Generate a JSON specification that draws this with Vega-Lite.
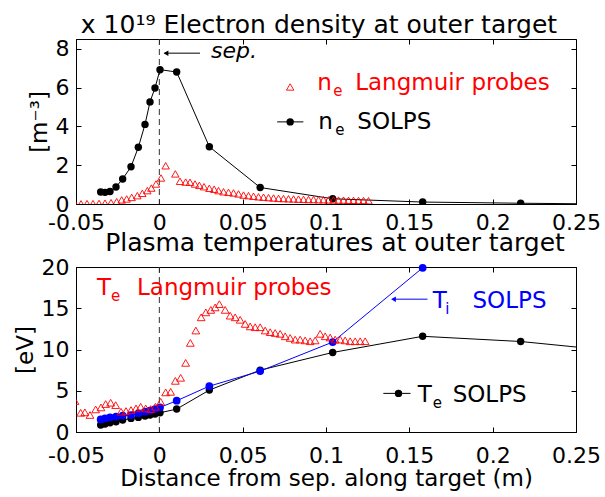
{
  "$schema": "https://vega.github.io/schema/vega-lite/v6.json",
  "padding": {"left": 13, "top": 12, "right": 5, "bottom": 5},
  "bounds": "flush",
  "spacing": 63,
  "config": {
    "font": "DejaVu Sans",
    "view": {"stroke": "#000000", "strokeWidth": 1},
    "axis": {
      "grid": false,
      "labelFont": "DejaVu Sans",
      "titleFont": "DejaVu Sans",
      "labelFontSize": 22,
      "titleFontSize": 23,
      "titleFontWeight": "normal",
      "labelColor": "#000000",
      "titleColor": "#000000",
      "domainColor": "#000000",
      "tickColor": "#000000",
      "tickSize": -5,
      "labelPadding": 12,
      "labelFlush": false
    },
    "axisX": {"labelPadding": 16},
    "title": {"font": "DejaVu Sans", "fontSize": 25, "fontWeight": "normal", "color": "#000000"}
  },
  "datasets": {
    "sep": [{"x": 0}],
    "ne_solps": [
      {"x": -0.0352, "v": 0.62}, {"x": -0.0326, "v": 0.60}, {"x": -0.0296, "v": 0.64}, {"x": -0.026, "v": 0.88},
      {"x": -0.022, "v": 1.29}, {"x": -0.017, "v": 1.92}, {"x": -0.0126, "v": 2.92}, {"x": -0.0086, "v": 4.10},
      {"x": -0.0056, "v": 5.26}, {"x": -0.0026, "v": 5.98}, {"x": 0.0004, "v": 6.92}, {"x": 0.0104, "v": 6.80},
      {"x": 0.030, "v": 2.95}, {"x": 0.0605, "v": 0.85}, {"x": 0.104, "v": 0.27}, {"x": 0.158, "v": 0.10},
      {"x": 0.2168, "v": 0.04}, {"x": 0.28, "v": -0.01}
    ],
    "ne_lp": [
      {"x": -0.0506, "v": 0.01}, {"x": -0.047, "v": 0.01}, {"x": -0.0434, "v": 0.02}, {"x": -0.0398, "v": 0.02},
      {"x": -0.0362, "v": 0.03}, {"x": -0.0326, "v": 0.04}, {"x": -0.029, "v": 0.07}, {"x": -0.0256, "v": 0.12},
      {"x": -0.0226, "v": 0.21}, {"x": -0.0196, "v": 0.26}, {"x": -0.0166, "v": 0.34}, {"x": -0.0132, "v": 0.43},
      {"x": -0.0102, "v": 0.55}, {"x": -0.0072, "v": 0.69}, {"x": -0.0048, "v": 0.82}, {"x": -0.002, "v": 1.03},
      {"x": 0.001, "v": 1.34}, {"x": 0.0038, "v": 1.97}, {"x": 0.0096, "v": 1.55}, {"x": 0.0124, "v": 1.17},
      {"x": 0.0158, "v": 1.13}, {"x": 0.0184, "v": 1.12}, {"x": 0.0214, "v": 1.03}, {"x": 0.024, "v": 0.96},
      {"x": 0.0268, "v": 0.89}, {"x": 0.030, "v": 0.81}, {"x": 0.0329, "v": 0.76}, {"x": 0.0355, "v": 0.69},
      {"x": 0.0385, "v": 0.63}, {"x": 0.0415, "v": 0.60}, {"x": 0.0445, "v": 0.57}, {"x": 0.0475, "v": 0.52},
      {"x": 0.0505, "v": 0.46}, {"x": 0.0535, "v": 0.43}, {"x": 0.0565, "v": 0.40}, {"x": 0.0595, "v": 0.37},
      {"x": 0.0625, "v": 0.35}, {"x": 0.0655, "v": 0.33}, {"x": 0.0685, "v": 0.31}, {"x": 0.0715, "v": 0.29},
      {"x": 0.0745, "v": 0.28}, {"x": 0.0775, "v": 0.27}, {"x": 0.0805, "v": 0.26}, {"x": 0.0835, "v": 0.25},
      {"x": 0.0865, "v": 0.24}, {"x": 0.0895, "v": 0.23}, {"x": 0.0925, "v": 0.23}, {"x": 0.0955, "v": 0.22},
      {"x": 0.0985, "v": 0.22}, {"x": 0.1015, "v": 0.21}, {"x": 0.1045, "v": 0.21}, {"x": 0.1075, "v": 0.20},
      {"x": 0.1105, "v": 0.20}, {"x": 0.1135, "v": 0.19}, {"x": 0.1165, "v": 0.19}, {"x": 0.1195, "v": 0.18},
      {"x": 0.1225, "v": 0.18}, {"x": 0.1255, "v": 0.17}
    ],
    "te_solps": [
      {"x": -0.0352, "v": 0.85}, {"x": -0.0326, "v": 0.97}, {"x": -0.0296, "v": 1.13}, {"x": -0.026, "v": 1.25},
      {"x": -0.022, "v": 1.45}, {"x": -0.017, "v": 1.65}, {"x": -0.0126, "v": 1.77}, {"x": -0.0086, "v": 1.93},
      {"x": -0.0056, "v": 2.06}, {"x": -0.0026, "v": 2.18}, {"x": 0.0004, "v": 2.33}, {"x": 0.0104, "v": 2.78},
      {"x": 0.030, "v": 5.08}, {"x": 0.0605, "v": 7.50}, {"x": 0.104, "v": 9.64}, {"x": 0.158, "v": 11.6},
      {"x": 0.2168, "v": 10.97}, {"x": 0.28, "v": 9.7}
    ],
    "ti_solps": [
      {"x": -0.0352, "v": 1.53}, {"x": -0.0326, "v": 1.65}, {"x": -0.0296, "v": 1.77}, {"x": -0.026, "v": 1.85},
      {"x": -0.022, "v": 1.97}, {"x": -0.017, "v": 2.06}, {"x": -0.0126, "v": 2.26}, {"x": -0.0086, "v": 2.46},
      {"x": -0.0056, "v": 2.58}, {"x": -0.0026, "v": 2.78}, {"x": 0.0004, "v": 2.98}, {"x": 0.0104, "v": 3.79},
      {"x": 0.030, "v": 5.56}, {"x": 0.0605, "v": 7.38}, {"x": 0.104, "v": 10.9}, {"x": 0.158, "v": 19.9}
    ],
    "te_lp": [
      {"x": -0.0506, "v": 3.75}, {"x": -0.0472, "v": 2.33}, {"x": -0.0447, "v": 2.38}, {"x": -0.0416, "v": 2.06},
      {"x": -0.0382, "v": 2.74}, {"x": -0.035, "v": 2.98}, {"x": -0.0322, "v": 3.39}, {"x": -0.0292, "v": 3.55},
      {"x": -0.0262, "v": 3.26}, {"x": -0.023, "v": 2.46}, {"x": -0.020, "v": 2.54}, {"x": -0.017, "v": 2.66},
      {"x": -0.014, "v": 2.86}, {"x": -0.0112, "v": 3.06}, {"x": -0.0082, "v": 2.86}, {"x": -0.0052, "v": 2.78},
      {"x": -0.0024, "v": 3.06}, {"x": 0.0008, "v": 3.66}, {"x": 0.0038, "v": 4.80}, {"x": 0.0068, "v": 4.87},
      {"x": 0.0096, "v": 6.20}, {"x": 0.0128, "v": 6.57}, {"x": 0.0158, "v": 8.38}, {"x": 0.0186, "v": 10.8},
      {"x": 0.0219, "v": 12.3}, {"x": 0.0251, "v": 13.9}, {"x": 0.0279, "v": 14.5}, {"x": 0.0309, "v": 14.8},
      {"x": 0.0335, "v": 15.1}, {"x": 0.0360, "v": 15.5}, {"x": 0.0395, "v": 14.8}, {"x": 0.0425, "v": 14.1},
      {"x": 0.0455, "v": 13.9}, {"x": 0.0485, "v": 13.6}, {"x": 0.0515, "v": 13.1}, {"x": 0.0545, "v": 12.8},
      {"x": 0.0575, "v": 12.7}, {"x": 0.0605, "v": 12.7}, {"x": 0.0635, "v": 12.3}, {"x": 0.0665, "v": 12.1},
      {"x": 0.0695, "v": 12.0}, {"x": 0.0725, "v": 11.9}, {"x": 0.0755, "v": 11.6}, {"x": 0.0785, "v": 11.4},
      {"x": 0.0815, "v": 11.2}, {"x": 0.0845, "v": 11.2}, {"x": 0.0875, "v": 11.1}, {"x": 0.0905, "v": 11.0},
      {"x": 0.0935, "v": 11.1}, {"x": 0.0965, "v": 11.9}, {"x": 0.0995, "v": 11.6}, {"x": 0.1025, "v": 11.45},
      {"x": 0.1055, "v": 11.2}, {"x": 0.1085, "v": 11.2}, {"x": 0.1115, "v": 11.1}, {"x": 0.1145, "v": 11.0},
      {"x": 0.1175, "v": 11.0}, {"x": 0.1205, "v": 11.0}, {"x": 0.1235, "v": 11.0}
    ],
    "top_rules": [
      {"x": 0.0030, "x2": 0.0244, "v": 7.77, "c": "SOLPS"},
      {"x": 0.0707, "x2": 0.0864, "v": 4.23, "c": "SOLPS"}
    ],
    "top_heads": [{"x": 0.0040, "v": 7.77, "c": "SOLPS"}],
    "top_leg_tri": [{"x": 0.0785, "v": 6.03}],
    "top_leg_dot": [{"x": 0.0785, "v": 4.23}],
    "top_italic": [{"t": "sep.", "x": 0.031, "v": 7.53}],
    "top_main": [
      {"t": "n", "x": 0.0948, "v": 5.88, "c": "LP"},
      {"t": "Langmuir probes", "x": 0.1175, "v": 5.88, "c": "LP"},
      {"t": "n", "x": 0.0954, "v": 3.87, "c": "SOLPS"},
      {"t": "SOLPS", "x": 0.1188, "v": 3.87, "c": "SOLPS"}
    ],
    "top_sub": [
      {"t": "e", "x": 0.1043, "v": 5.88, "c": "LP"},
      {"t": "e", "x": 0.1055, "v": 3.87, "c": "SOLPS"}
    ],
    "bot_rules": [
      {"x": 0.1400, "x2": 0.1609, "v": 16.1, "c": "Ti"},
      {"x": 0.1344, "x2": 0.1507, "v": 4.68, "c": "SOLPS"}
    ],
    "bot_heads": [{"x": 0.1405, "v": 16.1, "c": "Ti"}],
    "bot_leg_dot": [{"x": 0.1435, "v": 4.68}],
    "bot_main": [
      {"t": "T", "x": -0.0374, "v": 16.57, "c": "LP"},
      {"t": "Langmuir probes", "x": -0.0134, "v": 16.57, "c": "LP"},
      {"t": "T", "x": 0.164, "v": 15.0, "c": "Ti"},
      {"t": "SOLPS", "x": 0.1879, "v": 15.0, "c": "Ti"},
      {"t": "T", "x": 0.155, "v": 3.66, "c": "SOLPS"},
      {"t": "SOLPS", "x": 0.176, "v": 3.66, "c": "SOLPS"}
    ],
    "bot_sub": [
      {"t": "e", "x": -0.0290, "v": 16.57, "c": "LP"},
      {"t": "i", "x": 0.1715, "v": 15.0, "c": "Ti"},
      {"t": "e", "x": 0.1640, "v": 3.66, "c": "SOLPS"}
    ]
  },
  "vconcat": [
    {
      "width": 500,
      "height": 165,
      "title": {"text": "x 10¹⁹ Electron density at outer target", "anchor": "middle", "dx": -7, "offset": 0},
      "resolve": {"axis": {"x": "independent", "y": "independent"}},
      "layer": [
        {
          "data": {"name": "sep"},
          "mark": {"type": "rule", "color": "#333333", "strokeDash": [6, 4], "strokeWidth": 1},
          "encoding": {
            "x": {"field": "x", "type": "quantitative",
                  "scale": {"domain": [-0.05, 0.25], "nice": false, "zero": false},
                  "axis": {"values": [-0.05, 0, 0.05, 0.1, 0.15, 0.2, 0.25], "labelExpr": "'' + datum.value", "title": null, "labelPadding": 13}}
          }
        },
        {
          "data": {"name": "ne_solps"},
          "mark": {"type": "line", "color": "#000000", "strokeWidth": 1, "clip": true},
          "encoding": {
            "x": {"field": "x", "type": "quantitative", "scale": {"domain": [-0.05, 0.25], "nice": false, "zero": false}, "axis": null},
            "y": {"field": "v", "type": "quantitative", "scale": {"domain": [0, 8.5], "nice": false},
                  "axis": {"values": [0, 2, 4, 6, 8], "title": "[m⁻³]"}}
          }
        },
        {
          "data": {"name": "ne_solps"},
          "mark": {"type": "point", "shape": "circle", "filled": true, "color": "#000000", "size": 55, "opacity": 1, "clip": true},
          "encoding": {
            "x": {"field": "x", "type": "quantitative", "scale": {"domain": [-0.05, 0.25], "nice": false, "zero": false}, "axis": null},
            "y": {"field": "v", "type": "quantitative", "scale": {"domain": [0, 8.5], "nice": false}, "axis": null}
          }
        },
        {
          "data": {"name": "ne_lp"},
          "mark": {"type": "point", "shape": "triangle-up", "filled": false, "color": "#ff0000", "size": 55, "strokeWidth": 0.9, "opacity": 1, "clip": true},
          "encoding": {
            "x": {"field": "x", "type": "quantitative", "scale": {"domain": [-0.05, 0.25], "nice": false, "zero": false},
                  "axis": {"orient": "top", "values": [-0.05, 0, 0.05, 0.1, 0.15, 0.2, 0.25], "labels": false, "domain": false, "title": null, "labelPadding": 5}},
            "y": {"field": "v", "type": "quantitative", "scale": {"domain": [0, 8.5], "nice": false},
                  "axis": {"orient": "right", "values": [0, 2, 4, 6, 8], "labels": false, "domain": false, "title": null, "labelPadding": 5}}
          }
        },
        {
          "data": {"name": "top_leg_tri"},
          "mark": {"type": "point", "shape": "triangle-up", "filled": false, "color": "#ff0000", "size": 55, "strokeWidth": 0.9, "opacity": 1},
          "encoding": {
            "x": {"field": "x", "type": "quantitative", "scale": {"domain": [-0.05, 0.25], "nice": false, "zero": false}, "axis": null},
            "y": {"field": "v", "type": "quantitative", "scale": {"domain": [0, 8.5], "nice": false}, "axis": null}
          }
        },
        {
          "data": {"name": "top_rules"},
          "mark": {"type": "rule", "color": "#000000", "strokeWidth": 1},
          "encoding": {
            "x": {"field": "x", "type": "quantitative", "scale": {"domain": [-0.05, 0.25], "nice": false, "zero": false}, "axis": null},
            "x2": {"field": "x2"},
            "y": {"field": "v", "type": "quantitative", "scale": {"domain": [0, 8.5], "nice": false}, "axis": null}
          }
        },
        {
          "data": {"name": "top_heads"},
          "mark": {"type": "point", "shape": "triangle-left", "filled": true, "color": "#000000", "size": 30, "opacity": 1},
          "encoding": {
            "x": {"field": "x", "type": "quantitative", "scale": {"domain": [-0.05, 0.25], "nice": false, "zero": false}, "axis": null},
            "y": {"field": "v", "type": "quantitative", "scale": {"domain": [0, 8.5], "nice": false}, "axis": null}
          }
        },
        {
          "data": {"name": "top_leg_dot"},
          "mark": {"type": "point", "shape": "circle", "filled": true, "color": "#000000", "size": 55, "opacity": 1},
          "encoding": {
            "x": {"field": "x", "type": "quantitative", "scale": {"domain": [-0.05, 0.25], "nice": false, "zero": false}, "axis": null},
            "y": {"field": "v", "type": "quantitative", "scale": {"domain": [0, 8.5], "nice": false}, "axis": null}
          }
        },
        {
          "data": {"name": "top_italic"},
          "mark": {"type": "text", "align": "left", "baseline": "alphabetic", "fontSize": 22, "fontStyle": "italic", "color": "#000000"},
          "encoding": {
            "x": {"field": "x", "type": "quantitative", "scale": {"domain": [-0.05, 0.25], "nice": false, "zero": false}, "axis": null},
            "y": {"field": "v", "type": "quantitative", "scale": {"domain": [0, 8.5], "nice": false}, "axis": null},
            "text": {"field": "t"}
          }
        },
        {
          "data": {"name": "top_main"},
          "mark": {"type": "text", "align": "left", "baseline": "alphabetic", "fontSize": 23},
          "encoding": {
            "x": {"field": "x", "type": "quantitative", "scale": {"domain": [-0.05, 0.25], "nice": false, "zero": false}, "axis": null},
            "y": {"field": "v", "type": "quantitative", "scale": {"domain": [0, 8.5], "nice": false}, "axis": null},
            "text": {"field": "t"},
            "color": {"field": "c", "type": "nominal", "scale": {"domain": ["LP", "SOLPS", "Ti"], "range": ["#ff0000", "#000000", "#0000ff"]}, "legend": null}
          }
        },
        {
          "data": {"name": "top_sub"},
          "mark": {"type": "text", "align": "left", "baseline": "alphabetic", "fontSize": 15, "dy": 6},
          "encoding": {
            "x": {"field": "x", "type": "quantitative", "scale": {"domain": [-0.05, 0.25], "nice": false, "zero": false}, "axis": null},
            "y": {"field": "v", "type": "quantitative", "scale": {"domain": [0, 8.5], "nice": false}, "axis": null},
            "text": {"field": "t"},
            "color": {"field": "c", "type": "nominal", "scale": {"domain": ["LP", "SOLPS", "Ti"], "range": ["#ff0000", "#000000", "#0000ff"]}, "legend": null}
          }
        }
      ]
    },
    {
      "width": 500,
      "height": 165,
      "title": {"text": "Plasma temperatures at outer target", "anchor": "middle", "dx": 9, "offset": 0},
      "resolve": {"axis": {"x": "independent", "y": "independent"}},
      "layer": [
        {
          "data": {"name": "sep"},
          "mark": {"type": "rule", "color": "#333333", "strokeDash": [6, 4], "strokeWidth": 1},
          "encoding": {
            "x": {"field": "x", "type": "quantitative",
                  "scale": {"domain": [-0.05, 0.25], "nice": false, "zero": false},
                  "axis": {"values": [-0.05, 0, 0.05, 0.1, 0.15, 0.2, 0.25], "labelExpr": "'' + datum.value", "title": "Distance from sep. along target (m)", "titlePadding": 1, "labelPadding": 18}}
          }
        },
        {
          "data": {"name": "te_solps"},
          "mark": {"type": "line", "color": "#000000", "strokeWidth": 1, "clip": true},
          "encoding": {
            "x": {"field": "x", "type": "quantitative", "scale": {"domain": [-0.05, 0.25], "nice": false, "zero": false}, "axis": null},
            "y": {"field": "v", "type": "quantitative", "scale": {"domain": [0, 20], "nice": false},
                  "axis": {"values": [0, 5, 10, 15, 20], "title": "[eV]"}}
          }
        },
        {
          "data": {"name": "te_solps"},
          "mark": {"type": "point", "shape": "circle", "filled": true, "color": "#000000", "size": 55, "opacity": 1, "clip": true},
          "encoding": {
            "x": {"field": "x", "type": "quantitative", "scale": {"domain": [-0.05, 0.25], "nice": false, "zero": false}, "axis": null},
            "y": {"field": "v", "type": "quantitative", "scale": {"domain": [0, 20], "nice": false}, "axis": null}
          }
        },
        {
          "data": {"name": "ti_solps"},
          "mark": {"type": "line", "color": "#0000ff", "strokeWidth": 1, "clip": true},
          "encoding": {
            "x": {"field": "x", "type": "quantitative", "scale": {"domain": [-0.05, 0.25], "nice": false, "zero": false}, "axis": null},
            "y": {"field": "v", "type": "quantitative", "scale": {"domain": [0, 20], "nice": false}, "axis": null}
          }
        },
        {
          "data": {"name": "ti_solps"},
          "mark": {"type": "point", "shape": "circle", "filled": true, "color": "#0000ff", "size": 60, "opacity": 1},
          "encoding": {
            "x": {"field": "x", "type": "quantitative", "scale": {"domain": [-0.05, 0.25], "nice": false, "zero": false}, "axis": null},
            "y": {"field": "v", "type": "quantitative", "scale": {"domain": [0, 20], "nice": false}, "axis": null}
          }
        },
        {
          "data": {"name": "te_lp"},
          "mark": {"type": "point", "shape": "triangle-up", "filled": false, "color": "#ff0000", "size": 60, "strokeWidth": 0.9, "opacity": 1, "clip": true},
          "encoding": {
            "x": {"field": "x", "type": "quantitative", "scale": {"domain": [-0.05, 0.25], "nice": false, "zero": false},
                  "axis": {"orient": "top", "values": [-0.05, 0, 0.05, 0.1, 0.15, 0.2, 0.25], "labels": false, "domain": false, "title": null, "labelPadding": 5}},
            "y": {"field": "v", "type": "quantitative", "scale": {"domain": [0, 20], "nice": false},
                  "axis": {"orient": "right", "values": [0, 5, 10, 15, 20], "labels": false, "domain": false, "title": null, "labelPadding": 5}}
          }
        },
        {
          "data": {"name": "bot_rules"},
          "mark": {"type": "rule", "strokeWidth": 1},
          "encoding": {
            "x": {"field": "x", "type": "quantitative", "scale": {"domain": [-0.05, 0.25], "nice": false, "zero": false}, "axis": null},
            "x2": {"field": "x2"},
            "y": {"field": "v", "type": "quantitative", "scale": {"domain": [0, 20], "nice": false}, "axis": null},
            "color": {"field": "c", "type": "nominal", "scale": {"domain": ["LP", "SOLPS", "Ti"], "range": ["#ff0000", "#000000", "#0000ff"]}, "legend": null}
          }
        },
        {
          "data": {"name": "bot_heads"},
          "mark": {"type": "point", "shape": "triangle-left", "filled": true, "size": 30, "opacity": 1},
          "encoding": {
            "x": {"field": "x", "type": "quantitative", "scale": {"domain": [-0.05, 0.25], "nice": false, "zero": false}, "axis": null},
            "y": {"field": "v", "type": "quantitative", "scale": {"domain": [0, 20], "nice": false}, "axis": null},
            "color": {"field": "c", "type": "nominal", "scale": {"domain": ["LP", "SOLPS", "Ti"], "range": ["#ff0000", "#000000", "#0000ff"]}, "legend": null}
          }
        },
        {
          "data": {"name": "bot_leg_dot"},
          "mark": {"type": "point", "shape": "circle", "filled": true, "color": "#000000", "size": 55, "opacity": 1},
          "encoding": {
            "x": {"field": "x", "type": "quantitative", "scale": {"domain": [-0.05, 0.25], "nice": false, "zero": false}, "axis": null},
            "y": {"field": "v", "type": "quantitative", "scale": {"domain": [0, 20], "nice": false}, "axis": null}
          }
        },
        {
          "data": {"name": "bot_main"},
          "mark": {"type": "text", "align": "left", "baseline": "alphabetic", "fontSize": 23},
          "encoding": {
            "x": {"field": "x", "type": "quantitative", "scale": {"domain": [-0.05, 0.25], "nice": false, "zero": false}, "axis": null},
            "y": {"field": "v", "type": "quantitative", "scale": {"domain": [0, 20], "nice": false}, "axis": null},
            "text": {"field": "t"},
            "color": {"field": "c", "type": "nominal", "scale": {"domain": ["LP", "SOLPS", "Ti"], "range": ["#ff0000", "#000000", "#0000ff"]}, "legend": null}
          }
        },
        {
          "data": {"name": "bot_sub"},
          "mark": {"type": "text", "align": "left", "baseline": "alphabetic", "fontSize": 15, "dy": 6},
          "encoding": {
            "x": {"field": "x", "type": "quantitative", "scale": {"domain": [-0.05, 0.25], "nice": false, "zero": false}, "axis": null},
            "y": {"field": "v", "type": "quantitative", "scale": {"domain": [0, 20], "nice": false}, "axis": null},
            "text": {"field": "t"},
            "color": {"field": "c", "type": "nominal", "scale": {"domain": ["LP", "SOLPS", "Ti"], "range": ["#ff0000", "#000000", "#0000ff"]}, "legend": null}
          }
        }
      ]
    }
  ]
}
